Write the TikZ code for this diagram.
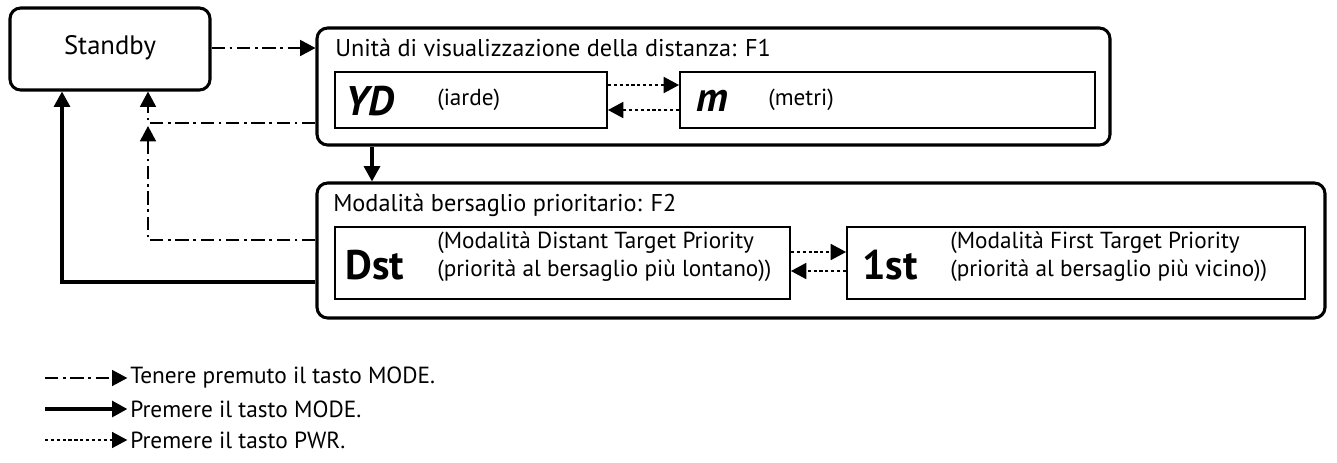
\documentclass[tikz,border=0pt]{standalone}
\usepackage{fontspec}
\setmainfont{PT Sans}
\usetikzlibrary{arrows.meta,positioning,calc}

\tikzset{
  outerbox/.style={draw, line width=2.3pt, rounded corners=8pt, inner sep=0pt},
  innerbox/.style={draw, line width=1.4pt, inner sep=0pt},
  boxtitle/.style={anchor=west, inner sep=0pt, font=\fontsize{18.2}{21}\selectfont},
  bigsym/.style={anchor=west, inner sep=0pt, font=\fontsize{31}{36}\selectfont\bfseries},
  smalltext/.style={anchor=west, inner sep=0pt, align=left, font=\fontsize{17.4}{21}\selectfont},
  legtext/.style={anchor=west, inner sep=0pt, font=\fontsize{17.5}{21}\selectfont},
  tip/.style={-{Triangle[length=11.5pt,width=12pt]}},
  holdline/.style={tip, line width=1.2pt, dash pattern=on 10pt off 3.5pt on 2pt off 3.5pt},
  pressline/.style={tip, line width=2.3pt},
  pwrline/.style={tip, line width=1.2pt, dash pattern=on 2.4pt off 2pt},
}

\begin{document}
\begin{tikzpicture}[x=0.75pt, y=-0.75pt]
  \useasboundingbox (0,0) rectangle (1337,462);

  % boxes
  \node[outerbox, minimum width=150pt, minimum height=61.5pt] (stby) at (110,49) {};
  \node[font=\fontsize{20}{24}\selectfont] (stbytext) at (110,48) {Standby};

  \node[outerbox, minimum width=594.75pt, minimum height=87.75pt] (f1) at (713.5,86.5) {};
  \node[boxtitle] (f1title) at (335,48) {Unità di visualizzazione della distanza: F1};
  \node[innerbox, minimum width=204pt, minimum height=42pt] (yd) at (471,100) {};
  \node[innerbox, minimum width=311.25pt, minimum height=42pt] (m) at (887.5,100) {};
  \node[bigsym] (ydsym) at (345,101) {\itshape YD};
  \node[smalltext] (ydtext) at (437,100) {(iarde)};
  \node[bigsym] (msym) at (696,101) {\itshape m};
  \node[smalltext] (mtext) at (768,100) {(metri)};

  \node[outerbox, minimum width=756pt, minimum height=101.25pt] (f2) at (821,250.5) {};
  \node[boxtitle] (f2title) at (333,205) {Modalità bersaglio prioritario: F2};
  \node[innerbox, minimum width=341.25pt, minimum height=54pt] (dst) at (562.5,263) {};
  \node[innerbox, minimum width=343.5pt, minimum height=54pt] (first) at (1076,263) {};
  \node[bigsym] (dstsym) at (345,265) {Dst};
  \node[smalltext] (dsttext) at (437,257) {(Modalità Distant Target Priority\\(priorità al bersaglio più lontano))};
  \node[bigsym] (firstsym) at (862,265) {1st};
  \node[smalltext] (firsttext) at (950,257) {(Modalità First Target Priority\\(priorità al bersaglio più vicino))};

  % connectors
  \coordinate (j1) at (148,123);
  \coordinate (j2) at (148,240);
  \coordinate (j3) at (62,282);
  \coordinate (j4) at (372,0);
  \draw[holdline] (stby.east |- 0,48) -- (f1.west |- 0,48);
  \draw[holdline] (f1.west |- j1) -- (j1) -- (j1 |- stby.south);
  \draw[holdline] (f2.west |- j2) -- (j2) -- ($(j1)+(0,3)$);
  \draw[pressline] (f2.west |- j3) -- (j3) -- (j3 |- stby.south);
  \draw[pressline] (f1.south -| j4) -- (f2.north -| j4);

  \draw[pwrline] (yd.east |- 0,85) -- (m.west |- 0,85);
  \draw[pwrline] (m.west |- 0,110) -- (yd.east |- 0,110);
  \draw[pwrline] (dst.east |- 0,252) -- (first.west |- 0,252);
  \draw[pwrline] (first.west |- 0,271) -- (dst.east |- 0,271);

  % legend
  \node[legtext] (leghold) at (130,378) {Tenere premuto il tasto MODE.};
  \node[legtext] (legpress) at (130,409) {Premere il tasto MODE.};
  \node[legtext] (legpwr) at (130,440) {Premere il tasto PWR.};
  \coordinate (l1) at (45,378);
  \coordinate (l2) at (45,409);
  \coordinate (l3) at (45,440);
  \draw[holdline] (l1) -- ([xshift=-2pt]leghold.west |- l1);
  \draw[pressline] (l2) -- ([xshift=-2pt]legpress.west |- l2);
  \draw[pwrline] (l3) -- ([xshift=-2pt]legpwr.west |- l3);
\end{tikzpicture}
\end{document}
